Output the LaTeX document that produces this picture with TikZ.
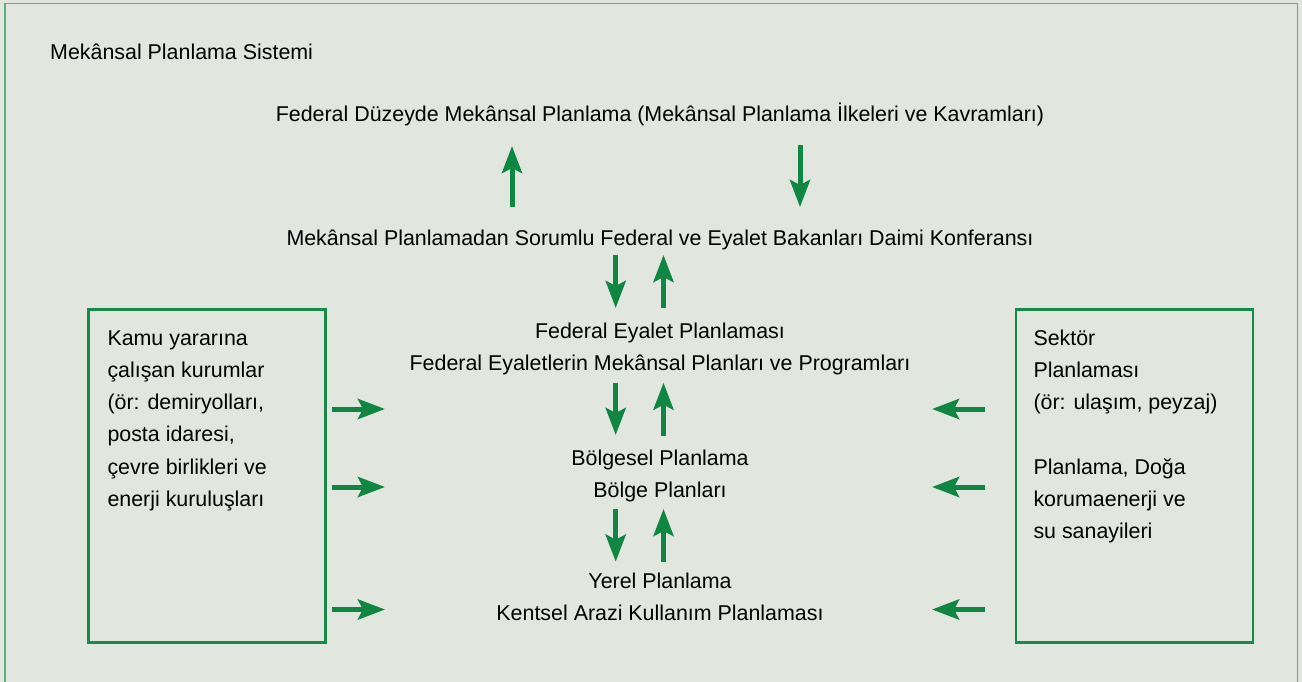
\documentclass[tikz,border=0pt]{standalone}
\usepackage{fontspec}
\setmainfont{Liberation Sans}
\usetikzlibrary{arrows.meta}
\definecolor{bgc}{HTML}{E1E6DF}
\definecolor{frc}{HTML}{5FAF7C}
\definecolor{gc}{HTML}{0F8641}
\definecolor{bxc}{HTML}{178A47}
\begin{document}
\begin{tikzpicture}[x=1pt,y=-1pt,
  txt/.style={inner sep=0pt, anchor=base, font=\fontsize{21.4}{32}\selectfont},
  ltxt/.style={inner sep=0pt, anchor=base west, font=\fontsize{21.4}{32.3}\selectfont},
  flow/.style={draw=gc, line width=5pt, -{Stealth[length=27pt,width=20pt,inset=5pt]}},
  sidebox/.style={draw=bxc, line width=2.5pt, inner sep=0pt, anchor=north west, minimum width=237pt, minimum height=333pt}]
\fill[bgc] (0,0) rectangle (1302,682);
\useasboundingbox (0,0) rectangle (1302,682);
\draw[frc, line width=1.5pt] (5,690) -- (5,3.5) -- (1297.5,3.5) -- (1297.5,690);

% side boxes
\node[sidebox] (lbox) at (87.3,308.3) {};
\node[sidebox] (rbox) at (1014.7,308.3) {};

% texts
\node[ltxt] (sys) at (50,60) {Mekânsal Planlama Sistemi};
\node[txt] (fed) at (660,121.7) {Federal Düzeyde Mekânsal Planlama (Mekânsal Planlama İlkeleri ve Kavramları)};
\node[txt] (conf) at (660,245) {Mekânsal Planlamadan Sorumlu Federal ve Eyalet Bakanları Daimi Konferansı};
\node[txt] (state) at (660,338.3) {\parbox[t]{700pt}{\centering Federal Eyalet Planlaması\\ Federal Eyaletlerin Mekânsal Planları ve Programları}};
\node[txt] (reg) at (660,465) {\parbox[t]{700pt}{\centering Bölgesel Planlama\\ Bölge Planları}};
\node[txt] (loc) at (660,588.3) {\parbox[t]{700pt}{\centering Yerel Planlama\\ Kentsel Arazi Kullanım Planlaması}};
\node[ltxt] (ltext) at (107.3,345) {\parbox[t]{210pt}{Kamu yararına\\ çalışan kurumlar\\ (ör: demiryolları,\\ posta idaresi,\\ çevre birlikleri ve\\ enerji kuruluşları}};
\node[ltxt] (rtext) at (1033.3,345) {\parbox[t]{210pt}{Sektör\\ Planlaması\\ (ör: ulaşım, peyzaj)\\[32.3pt] Planlama, Doğa\\ korumaenerji ve\\ su sanayileri}};

% vertical arrows
\coordinate (u1s) at (512,207); \coordinate (u1e) at (512,146);
\coordinate (d1s) at (800,145); \coordinate (d1e) at (800,207);
\coordinate (d2s) at (615.7,255); \coordinate (d2e) at (615.7,308);
\coordinate (u2s) at (663.5,308); \coordinate (u2e) at (663.5,255);
\coordinate (d3s) at (615.7,382.5); \coordinate (d3e) at (615.7,435);
\coordinate (u3s) at (663.5,435.5); \coordinate (u3e) at (663.5,382.7);
\coordinate (d4s) at (615.7,509); \coordinate (d4e) at (615.7,561.7);
\coordinate (u4s) at (663.5,561.7); \coordinate (u4e) at (663.5,509);
\foreach \a in {u1,d1,d2,u2,d3,u3,d4,u4} \draw[flow] (\a s) -- (\a e);

% horizontal arrows
\coordinate (l1s) at (332,409); \coordinate (l1e) at (385,409);
\coordinate (l2s) at (332,487); \coordinate (l2e) at (385,487);
\coordinate (l3s) at (332,609.5); \coordinate (l3e) at (385,609.5);
\coordinate (r1s) at (985,409); \coordinate (r1e) at (932,409);
\coordinate (r2s) at (985,487); \coordinate (r2e) at (932,487);
\coordinate (r3s) at (985,609.5); \coordinate (r3e) at (932,609.5);
\foreach \a in {l1,l2,l3,r1,r2,r3} \draw[flow] (\a s) -- (\a e);
\end{tikzpicture}
\end{document}
